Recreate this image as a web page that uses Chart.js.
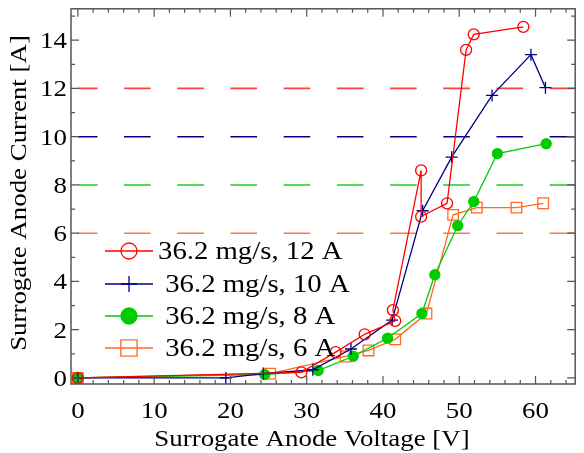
<!DOCTYPE html>
<html>
<head>
<meta charset="utf-8">
<script src="https://cdn.jsdelivr.net/npm/chart.js@4/dist/chart.umd.min.js"></script>
<style>
html,body{margin:0;padding:0;background:#fff;}
#wrap{width:584px;height:453px;position:relative;}
</style>
</head>
<body>
<div id="wrap"><canvas id="c" width="584" height="453"></canvas></div>
<script>
// ---- data ----
const labels = ["36.2 mg/s, 12 A", " 36.2 mg/s, 10 A", " 36.2 mg/s, 8 A", " 36.2 mg/s, 6 A"];
const colors = ["#ff0000", "#000080", "#00cc00", "#ff6a20"];
const refColors = ["#ff4040", "#000080", "#22cc22", "#ff7a40"];
const refLevels = [12, 10, 8, 6];

const x12 = [0, 29.3, 33.8, 37.6, 41.6, 41.3, 45.0, 45.0, 48.4, 50.9, 51.9, 58.4];
const y12 = [0, 0.23, 1.07, 1.81, 2.37, 2.81, 8.6, 6.69, 7.24, 13.6, 14.24, 14.55];

const x10 = [0, 19.4, 24.3, 30.8, 35.8, 41.2, 45.2, 49.0, 54.3, 59.4, 61.3];
const y10 = [0, 0.0, 0.18, 0.34, 1.2, 2.4, 6.93, 9.15, 11.71, 13.4, 12.03];

const x8 = [0, 24.5, 31.5, 36.1, 40.6, 45.1, 46.8, 49.8, 51.9, 55.0, 61.4];
const y8 = [0, 0.14, 0.31, 0.9, 1.65, 2.67, 4.28, 6.31, 7.31, 9.3, 9.71];

const x6 = [0, 25.2, 35.1, 38.1, 41.6, 45.7, 49.2, 52.3, 57.5, 61.0];
const y6 = [0, 0.18, 0.89, 1.14, 1.6, 2.67, 6.76, 7.06, 7.06, 7.24];

const xTicks = [0, 10, 20, 30, 40, 50, 60];
const yTicks = [0, 2, 4, 6, 8, 10, 12, 14];
const xTitle = 'Surrogate Anode Voltage [V]';
const yTitle = 'Surrogate Anode Current [A]';

const X_MIN = -0.9, X_MAX = 65.2, Y_MIN = -0.25, Y_MAX = 15.3;

const FONT = "'Liberation Serif', 'Times New Roman', serif";
const TXT_SIZE = 24, TXT_STRETCH = 1.12;
const LEG_SIZE = 25, LEG_STRETCH = 1.15;

function pts(xs, ys){ return xs.map((x,i)=>({x:x, y:ys[i]})); }

const pointStyles = ['circle', 'cross', 'circle', 'rect'];
const pointRadii = [5.5, 6, 5, 7.5];
const fills = ['rgba(0,0,0,0)', colors[1], colors[2], 'rgba(0,0,0,0)'];
const series = [[x12,y12],[x10,y10],[x8,y8],[x6,y6]];

const datasets = series.map((s,i)=>({
  label: labels[i],
  data: pts(s[0], s[1]),
  borderColor: colors[i],
  backgroundColor: fills[i],
  borderWidth: 1.3,
  pointStyle: pointStyles[i],
  pointRadius: pointRadii[i],
  pointBorderWidth: 1.3,
  pointBackgroundColor: fills[i],
  pointBorderColor: colors[i],
  showLine: true,
  tension: 0,
  order: i
}));

function drawText(ctx, text, x, y, align, size, stretch, rot){
  ctx.save();
  ctx.translate(x, y);
  if (rot) ctx.rotate(rot);
  ctx.scale(stretch, 1);
  ctx.font = size + "px " + FONT;
  ctx.fillStyle = '#000';
  ctx.textAlign = align;
  ctx.textBaseline = 'alphabetic';
  ctx.fillText(text, 0, 0);
  ctx.restore();
}

// reference dashed lines
const refPlugin = {
  id: 'refLines',
  beforeDatasetsDraw(chart){
    const {ctx, chartArea:a, scales:{x, y}} = chart;
    ctx.save();
    ctx.beginPath(); ctx.rect(a.left, a.top, a.right-a.left, a.bottom-a.top); ctx.clip();
    refLevels.forEach((lv,i)=>{
      const py = y.getPixelForValue(lv);
      ctx.beginPath();
      ctx.setLineDash([26.6, 26.6]);
      ctx.lineDashOffset = 7;
      ctx.strokeStyle = refColors[i];
      ctx.lineWidth = 1.6;
      ctx.moveTo(x.getPixelForValue(0), py);
      ctx.lineTo(a.right, py);
      ctx.stroke();
    });
    ctx.restore();
  }
};

// frame + inward ticks + labels
const framePlugin = {
  id: 'frame',
  afterDatasetsDraw(chart){
    const {ctx, chartArea:a, scales:{x, y}} = chart;
    ctx.save();
    ctx.strokeStyle = '#555';
    ctx.lineWidth = 1.5;
    ctx.setLineDash([]);
    ctx.strokeRect(a.left, a.top, a.right-a.left, a.bottom-a.top);
    ctx.lineWidth = 1.2;
    ctx.beginPath();
    for (let v = 0; v <= 64; v += 2) {
      const px = x.getPixelForValue(v);
      const len = (v % 10 === 0) ? 8 : 4;
      ctx.moveTo(px, a.bottom); ctx.lineTo(px, a.bottom - len);
      ctx.moveTo(px, a.top); ctx.lineTo(px, a.top + len);
    }
    for (let v = 0; v <= 15; v += 1) {
      const py = y.getPixelForValue(v);
      const len = (v % 2 === 0) ? 8 : 4;
      ctx.moveTo(a.left, py); ctx.lineTo(a.left + len, py);
      ctx.moveTo(a.right, py); ctx.lineTo(a.right - len, py);
    }
    ctx.stroke();
    ctx.restore();

    x.ticks.forEach(t => drawText(ctx, String(t.value), x.getPixelForValue(t.value), 418, 'center', TXT_SIZE, TXT_STRETCH, 0));
    y.ticks.forEach(t => drawText(ctx, String(t.value), 67, y.getPixelForValue(t.value) + 8, 'right', TXT_SIZE, TXT_STRETCH, 0));
    drawText(ctx, xTitle, 312, 446, 'center', TXT_SIZE, TXT_STRETCH, 0);
    drawText(ctx, yTitle, 26, 193, 'center', TXT_SIZE, TXT_STRETCH, -Math.PI/2);
  }
};

// custom legend (line + marker + text)
const legendPlugin = {
  id: 'customLegend',
  afterDraw(chart){
    const {ctx} = chart;
    const rowsY = [251, 284, 316, 348];
    const lx0 = 105, lx1 = 153, mx = 129;
    const legRadii = [8, 8, 8, 11.5];
    chart.data.datasets.forEach((ds,i)=>{
      const yy = rowsY[i];
      ctx.save();
      ctx.beginPath();
      ctx.setLineDash([]);
      ctx.strokeStyle = ds.borderColor;
      ctx.lineWidth = 1.3;
      ctx.moveTo(lx0, yy); ctx.lineTo(lx1, yy); ctx.stroke();
      ctx.fillStyle = ds.pointBackgroundColor;
      ctx.strokeStyle = ds.pointBorderColor;
      Chart.helpers.drawPoint(ctx, {pointStyle: ds.pointStyle, rotation: 0, radius: legRadii[i], borderWidth: 1.3}, mx, yy);
      ctx.restore();
      drawText(ctx, ds.label, 158, yy + 8, 'left', LEG_SIZE, LEG_STRETCH, 0);
    });
  }
};

new Chart(document.getElementById('c'), {
  type: 'scatter',
  data: { datasets },
  options: {
    responsive: false,
    animation: false,
    layout: { padding: { top: 6, right: 8, left: 0, bottom: 0 } },
    plugins: { legend: { display: false }, tooltip: { enabled: false } },
    scales: {
      x: {
        type: 'linear', min: X_MIN, max: X_MAX,
        afterFit(s){ s.height = 69; s.paddingLeft = 0; s.paddingRight = 0; },
        afterBuildTicks(s){ s.ticks = xTicks.map(v=>({value:v})); },
        grid: { display: false, drawTicks: false },
        border: { display: false },
        ticks: { display: false },
        title: { display: false, text: xTitle }
      },
      y: {
        type: 'linear', min: Y_MIN, max: Y_MAX,
        afterFit(s){ s.width = 71; s.paddingTop = 0; s.paddingBottom = 0; },
        afterBuildTicks(s){ s.ticks = yTicks.map(v=>({value:v})); },
        grid: { display: false, drawTicks: false },
        border: { display: false },
        ticks: { display: false },
        title: { display: false, text: yTitle }
      }
    }
  },
  plugins: [refPlugin, framePlugin, legendPlugin]
});
</script>
</body>
</html>
